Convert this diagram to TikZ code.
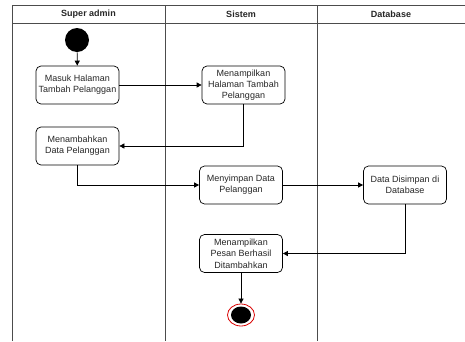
\documentclass[tikz,border=0pt]{standalone}
\usepackage{fontspec}
\setmainfont{Liberation Sans}
\usetikzlibrary{arrows.meta,shapes.geometric}
\begin{document}
\begin{tikzpicture}[x=1pt,y=-1pt,
 act/.style={draw, line width=0.7pt, rounded corners=5pt, minimum width=83pt, minimum height=38pt, align=center, font=\fontsize{9}{11.3}\selectfont, inner sep=1pt, text=black!85},
 flow/.style={-{Triangle[length=5pt,width=5pt]}, line width=0.7pt},
 lane/.style={draw=black!70, line width=0.8pt},
 hdr/.style={font=\bfseries\fontsize{9}{11}\selectfont, text=black!85}]
\useasboundingbox (0,0) rectangle (465,341);
% swimlanes
\draw[lane] (12,341) -- (12,5) -- (470,5);
\draw[lane] (12,23) -- (470,23);
\draw[lane] (165,5) -- (165,341);
\draw[lane] (317,5) -- (317,341);
\node[hdr] (h1) at (88.5,14) {Super admin};
\node[hdr] (h2) at (241,14) {Sistem};
\node[hdr] (h3) at (391,14) {Database};
% nodes
\node[circle, fill=black, minimum size=24pt, inner sep=0pt] (start) at (77,40) {};
\node[act] (b1) at (77.5,85) {Masuk Halaman\\Tambah Pelanggan};
\node[act] (b2) at (243.5,85) {Menampilkan\\Halaman Tambah\\Pelanggan};
\node[act] (b3) at (77.5,146) {Menambahkan\\Data Pelanggan};
\node[act] (b4) at (241,185) {Menyimpan Data\\Pelanggan};
\node[act] (b5) at (405,185) {Data Disimpan di\\Database};
\node[act] (b6) at (241,253.5) {Menampilkan\\Pesan Berhasil\\Ditambahkan};
\node[ellipse, draw=red!85!black, line width=0.8pt, minimum width=27pt, minimum height=22pt, inner sep=0pt] (end) at (241,315) {};
\fill[black] (end.center) ellipse [x radius=10pt, y radius=8.5pt];
% connectors
\draw[flow] (start) -- (b1);
\draw[flow] (b1) -- (b2);
\draw[flow] (b2.south) |- (b3.east);
\draw[flow] (b3.south) |- (b4.west);
\draw[flow] (b4) -- (b5);
\draw[flow] (b5.south) |- (b6.east);
\draw[flow] (b6) -- (end);
\end{tikzpicture}
\end{document}
